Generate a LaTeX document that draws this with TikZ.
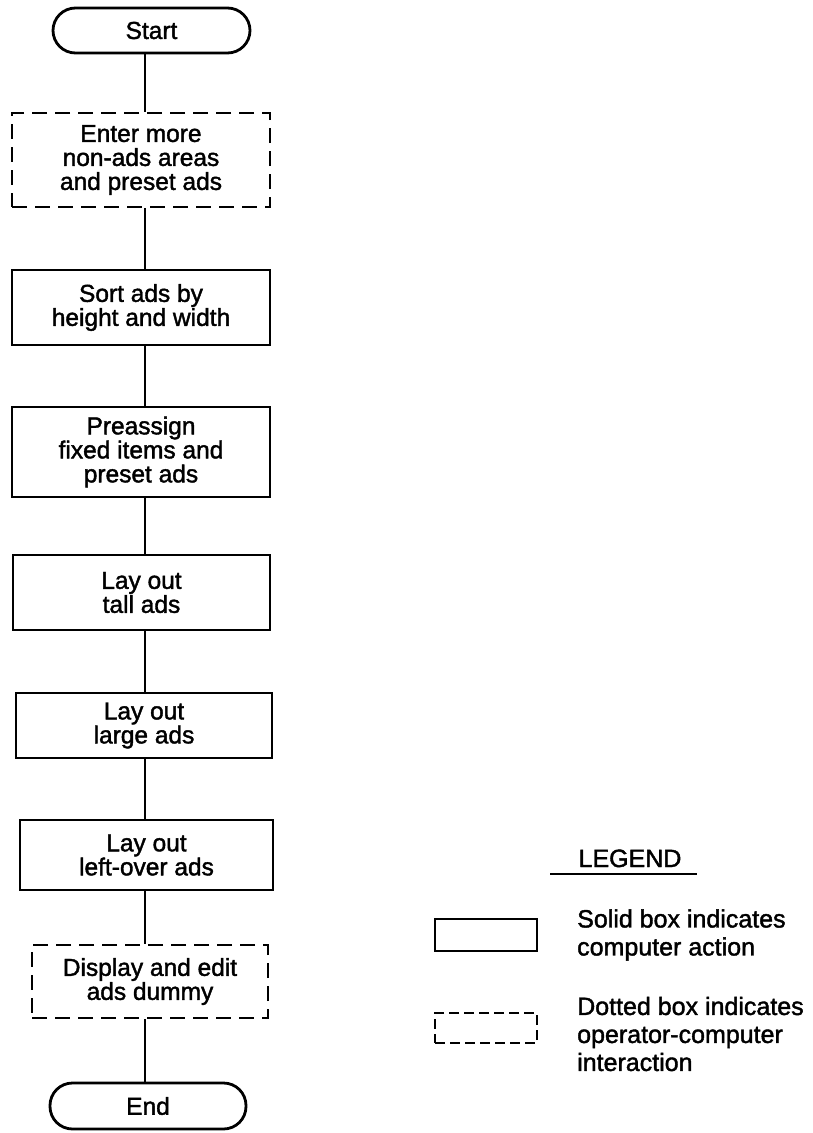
\documentclass[tikz,border=0pt]{standalone}
\usepackage{fontspec}
\setmainfont{Liberation Sans}
\newcommand{\diagfont}[2]{\fontsize{#1}{#2}\selectfont\addfontfeatures{FakeBold=1.6}}
\begin{document}
\begin{tikzpicture}[x=1pt,y=-1pt,
  box/.style={draw, line width=2.8pt, align=center, inner sep=0pt, font=\diagfont{24.5}{24}},
  dashbox/.style={box, dash pattern=on 15pt off 8pt},
  term/.style={box, rounded corners=22.5pt},
  conn/.style={line width=2.8pt},
  legtext/.style={anchor=west, align=left, inner sep=0pt, font=\diagfont{25}{28}}]
\useasboundingbox (0,0) rectangle (813,1133);
\coordinate (col) at (145,0);
\node[term, minimum width=197pt, minimum height=45pt] (start) at (151.5,30.5) {Start};
\node[dashbox, minimum width=258pt, minimum height=94pt] (enter) at (141,160) {Enter more\\non-ads areas\\and preset ads};
\node[box, minimum width=258pt, minimum height=75pt] (sort) at (141,307.5) {Sort ads by\\height and width};
\node[box, minimum width=258pt, minimum height=90pt] (pre) at (141,452) {Preassign\\fixed items and\\preset ads};
\node[box, minimum width=257pt, minimum height=75pt] (tall) at (141.5,592.5) {Lay out\\tall ads};
\node[box, minimum width=256pt, minimum height=65pt] (large) at (144,725.5) {Lay out\\large ads};
\node[box, minimum width=253pt, minimum height=70pt] (left) at (146.5,855) {Lay out\\left-over ads};
\node[dashbox, minimum width=236pt, minimum height=73pt] (disp) at (150,981.5) {Display and edit\\ads dummy};
\node[term, minimum width=196pt, minimum height=46pt] (end) at (148,1106) {End};
\foreach \a/\b in {start/enter,enter/sort,sort/pre,pre/tall,tall/large,large/left,left/disp,disp/end}
  \draw[conn] (\a.south -| col) -- (\b.north -| col);
% legend
\node[inner sep=0pt, font=\diagfont{25}{24}, anchor=base] (leg) at (630,867) {LEGEND};
\draw[line width=2.2pt] (550,874) -- (697,874);
\node[draw, line width=2.8pt, minimum width=102pt, minimum height=32pt, inner sep=0pt] (lsolid) at (486,935) {};
\node[draw, line width=2.8pt, dash pattern=on 10pt off 5pt, minimum width=102pt, minimum height=30pt, inner sep=0pt] (ldash) at (486,1028) {};
\node[legtext] (tsolid) at (577,935) {Solid box indicates\\computer action};
\node[legtext] (tdash) at (577,1034) {Dotted box indicates\\operator-computer\\interaction};
\end{tikzpicture}
\end{document}
